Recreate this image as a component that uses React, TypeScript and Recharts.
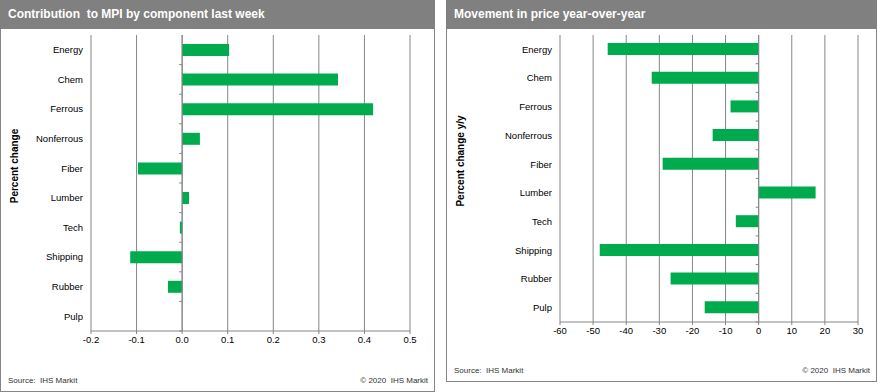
import { Bar, BarChart, CartesianGrid, ReferenceLine, XAxis, YAxis } from 'recharts';

const categories = ['Energy', 'Chem', 'Ferrous', 'Nonferrous', 'Fiber', 'Lumber', 'Tech', 'Shipping', 'Rubber', 'Pulp'];
const contribution = [0.103, 0.342, 0.419, 0.039, -0.097, 0.015, -0.005, -0.114, -0.031, 0];
const yoyChange = [-45.6, -32.3, -8.5, -13.9, -29.0, 17.2, -6.9, -48.0, -26.6, -16.3];
const contributionTicks = [-0.2, -0.1, 0, 0.1, 0.2, 0.3, 0.4, 0.5];
const yoyTicks = [-60, -50, -40, -30, -20, -10, 0, 10, 20, 30];

const GREEN = '#00ab4e';
const GRID = '#868686';
const FONT = '"Liberation Sans", Arial, sans-serif';
const TICK = { fill: '#000', fontSize: 9.5, fontFamily: FONT };

type PanelProps = {
  title: string;
  yLabel: string;
  values: number[];
  ticks: number[];
  format: (v: number) => string;
  left: number;
  width: number;
  height: number;
  plotBottom: number;
  axisWidth: number;
  marginRight: number;
  labelX: number;
  labelY: number;
};

function ZeroLine(props: any) {
  const { x1, y1, x2, y2 } = props;
  const n = categories.length;
  const step = (y2 - y1) / n;
  return (
    <g>
      <line x1={x1} y1={y1} x2={x2} y2={y2} stroke={GRID} strokeWidth={1} />
      {categories.map((_, i) => (
        <line key={i} x1={x1 - 3} x2={x1} y1={y1 + i * step} y2={y1 + i * step} stroke={GRID} strokeWidth={1} />
      ))}
    </g>
  );
}

function Panel({ title, yLabel, values, ticks, format, left, width, height, plotBottom, axisWidth, marginRight, labelX, labelY }: PanelProps) {
  const data = categories.map((name, i) => ({ name, value: values[i] }));
  return (
    <div
      style={{
        position: 'absolute',
        left,
        top: 0,
        width,
        height,
        boxSizing: 'border-box',
        border: `1px solid ${GRID}`,
        background: '#fff',
        fontFamily: FONT,
      }}
    >
      <div
        style={{
          position: 'absolute',
          left: -1,
          top: -1,
          width,
          height: 29,
          background: '#808080',
          color: '#fff',
          fontWeight: 'bold',
          fontSize: 12,
          lineHeight: '29px',
          paddingLeft: 8,
          boxSizing: 'border-box',
          whiteSpace: 'pre',
        }}
      >
        {title}
      </div>
      <div style={{ position: 'absolute', left: -1, top: -1 }}>
        <BarChart
          width={width}
          height={height}
          data={data}
          layout="vertical"
          margin={{ top: 35, right: marginRight, bottom: height - plotBottom - 30, left: 0 }}
        >
          <CartesianGrid horizontal={false} stroke={GRID} />
          <XAxis
            type="number"
            domain={[ticks[0], ticks[ticks.length - 1]]}
            ticks={ticks}
            interval={0}
            tickFormatter={format}
            height={30}
            tick={TICK}
            axisLine={{ stroke: GRID }}
            tickLine={{ stroke: GRID }}
            tickSize={3}
            tickMargin={2}
          />
          <YAxis
            type="category"
            dataKey="name"
            width={axisWidth}
            tick={TICK}
            axisLine={false}
            tickLine={false}
            interval={0}
          />
          <ReferenceLine x={0} shape={ZeroLine} />
          <Bar dataKey="value" fill={GREEN} barSize={12} isAnimationActive={false} />
        </BarChart>
      </div>
      <div
        style={{
          position: 'absolute',
          left: labelX - 60,
          top: labelY - 7,
          width: 120,
          height: 14,
          lineHeight: '14px',
          textAlign: 'center',
          fontSize: 10,
          fontWeight: 'bold',
          transform: 'rotate(-90deg)',
          whiteSpace: 'nowrap',
        }}
      >
        {yLabel}
      </div>
      <div style={{ position: 'absolute', left: 7, bottom: 6, fontSize: 8, color: '#333', whiteSpace: 'pre' }}>
        {'Source:  IHS Markit'}
      </div>
      <div style={{ position: 'absolute', right: 6, bottom: 6, fontSize: 8, color: '#333', whiteSpace: 'pre' }}>
        {'© 2020  IHS Markit'}
      </div>
    </div>
  );
}

export default function App() {
  return (
    <div style={{ position: 'absolute', left: 0, top: 0, width: 886, height: 392, background: '#fff' }}>
      <Panel
        title={'Contribution  to MPI by component last week'}
        yLabel="Percent change"
        values={contribution}
        ticks={contributionTicks}
        format={(v) => v.toFixed(1)}
        left={0}
        width={435}
        height={392}
        plotBottom={331}
        axisWidth={91}
        marginRight={25}
        labelX={14}
        labelY={165}
      />
      <Panel
        title="Movement in price year-over-year"
        yLabel="Percent change y/y"
        values={yoyChange}
        ticks={yoyTicks}
        format={(v) => String(v)}
        left={446}
        width={431}
        height={382}
        plotBottom={322}
        axisWidth={114}
        marginRight={19}
        labelX={14}
        labelY={160}
      />
    </div>
  );
}
